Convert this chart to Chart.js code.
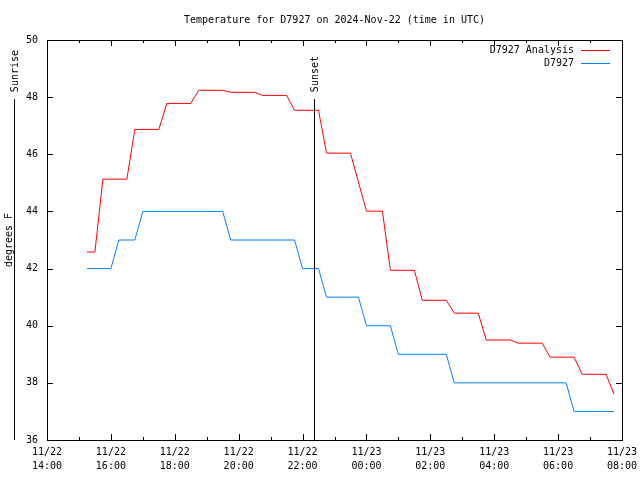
<!DOCTYPE html>
<html>
<head>
<meta charset="utf-8">
<script src="https://cdn.jsdelivr.net/npm/chart.js@4.4.1/dist/chart.umd.min.js"></script>
<style>
  html, body { margin: 0; padding: 0; background: #fff; }
  #wrap { width: 640px; height: 480px; }
</style>
</head>
<body>
<div id="wrap"><canvas id="myChart"></canvas></div>
<script>
// hours after 11/22 14:00 UTC
const analysisHours = [1.25, 1.5, 1.75, 2.5, 2.75, 3.5, 3.75, 4.5, 4.75, 5.5, 5.75, 6.5, 6.75, 7.5, 7.75, 8.5, 8.75, 9.5, 10.0, 10.5, 10.75, 11.5, 11.75, 12.5, 12.75, 13.5, 13.75, 14.5, 14.75, 15.5, 15.75, 16.5, 16.75, 17.5, 17.75];
const analysisTemps = [42.58, 42.58, 45.13, 45.13, 46.87, 46.87, 47.78, 47.78, 48.24, 48.24, 48.17, 48.17, 48.06, 48.06, 47.54, 47.54, 46.04, 46.04, 44.01, 44.01, 41.94, 41.94, 40.89, 40.89, 40.44, 40.44, 39.5, 39.5, 39.39, 39.39, 38.9, 38.9, 38.3, 38.3, 37.6];

const obsHours = [1.25, 2.0, 2.25, 2.75, 3.0, 5.5, 5.75, 7.75, 8.0, 8.5, 8.75, 9.75, 10.0, 10.75, 11.0, 12.5, 12.75, 16.25, 16.5, 17.75];
const obsTemps = [42, 42, 43, 43, 44, 44, 43, 43, 42, 42, 41, 41, 40, 40, 39, 39, 38, 38, 37, 37];

const tickDates = ['11/22', '11/22', '11/22', '11/22', '11/22', '11/23', '11/23', '11/23', '11/23', '11/23'];
const tickTimes = ['14:00', '16:00', '18:00', '20:00', '22:00', '00:00', '02:00', '04:00', '06:00', '08:00'];

const sunsetHour = 8.36;
const sunsetTop = 47.93;

const FONT = '"DejaVu Sans Mono", monospace';

const toPoints = (xs, ys) => xs.map((x, i) => ({ x: x, y: ys[i] }));

const data = {
  datasets: [
    {
      label: 'D7927 Analysis',
      data: toPoints(analysisHours, analysisTemps),
      borderColor: '#ff0000',
      borderWidth: 1,
      pointRadius: 0,
      tension: 0
    },
    {
      label: 'D7927',
      data: toPoints(obsHours, obsTemps),
      borderColor: '#0080ff',
      borderWidth: 1,
      pointRadius: 0,
      tension: 0
    }
  ]
};

// gnuplot-ish decorations: frame, inward ticks, legend, sunrise/sunset, title
const decor = {
  id: 'decor',
  afterDraw(chart) {
    const ctx = chart.ctx;
    const a = chart.chartArea;
    const xs = chart.scales.x;
    const ys = chart.scales.y;
    ctx.save();
    ctx.strokeStyle = '#000';
    ctx.lineWidth = 1;
    ctx.strokeRect(Math.round(a.left) + 0.5, Math.round(a.top) + 0.5,
      Math.round(a.right - a.left), Math.round(a.bottom - a.top));

    ctx.beginPath();
    for (let h = 0; h <= 18; h++) {
      const px = Math.round(xs.getPixelForValue(h)) + 0.5;
      const len = h % 2 === 0 ? 6 : 3;
      ctx.moveTo(px, a.bottom); ctx.lineTo(px, a.bottom - len);
      ctx.moveTo(px, a.top); ctx.lineTo(px, a.top + len);
    }
    for (let v = 36; v <= 50; v += 2) {
      const py = Math.round(ys.getPixelForValue(v)) + 0.5;
      ctx.moveTo(a.right, py); ctx.lineTo(a.right - 6, py);
      ctx.moveTo(a.left, py); ctx.lineTo(a.left + 6, py);
    }
    ctx.stroke();

    // title
    ctx.fillStyle = '#000';
    ctx.font = '10px ' + FONT;
    ctx.textAlign = 'center';
    ctx.textBaseline = 'middle';
    ctx.fillText('Temperature for D7927 on 2024-Nov-22 (time in UTC)', (a.left + a.right) / 2, 20);

    // legend
    ctx.textAlign = 'right';
    chart.data.datasets.forEach((ds, i) => {
      const y = a.top + 10 + i * 13;
      ctx.fillStyle = '#000';
      ctx.fillText(ds.label, a.right - 48, y);
      ctx.strokeStyle = ds.borderColor;
      ctx.beginPath();
      ctx.moveTo(a.right - 41, Math.round(y) + 0.5);
      ctx.lineTo(a.right - 12, Math.round(y) + 0.5);
      ctx.stroke();
    });

    // sunset
    const sx = Math.round(xs.getPixelForValue(sunsetHour)) + 0.5;
    const sTop = ys.getPixelForValue(sunsetTop);
    ctx.strokeStyle = '#000';
    ctx.beginPath();
    ctx.moveTo(sx, sTop); ctx.lineTo(sx, a.bottom);
    ctx.stroke();
    ctx.save();
    ctx.translate(sx + 1, sTop - 7);
    ctx.rotate(-Math.PI / 2);
    ctx.textAlign = 'left';
    ctx.fillStyle = '#000';
    ctx.fillText('Sunset', 0, 0);
    ctx.restore();

    // sunrise (before the start of the plot, shown at left margin)
    const rx = a.left - 32.5;
    ctx.beginPath();
    ctx.moveTo(rx, sTop); ctx.lineTo(rx, a.bottom);
    ctx.stroke();
    ctx.save();
    ctx.translate(rx + 1, sTop - 7);
    ctx.rotate(-Math.PI / 2);
    ctx.textAlign = 'left';
    ctx.fillStyle = '#000';
    ctx.fillText('Sunrise', 0, 0);
    ctx.restore();

    ctx.restore();
  }
};

new Chart(document.getElementById('myChart'), {
  type: 'line',
  data: data,
  options: {
    responsive: true,
    maintainAspectRatio: false,
    animation: false,
    layout: { padding: { top: 40, right: 18, left: 0, bottom: 0 } },
    plugins: {
      legend: { display: false },
      tooltip: { enabled: false },
      title: { display: false }
    },
    scales: {
      x: {
        type: 'linear',
        min: 0,
        max: 18,
        grid: { display: false, drawTicks: false },
        border: { display: false },
        afterFit: (s) => { s.height = 40; s.paddingLeft = 0; s.paddingRight = 0; },
        ticks: {
          stepSize: 2,
          autoSkip: false,
          maxRotation: 0,
          padding: 5,
          color: '#000',
          font: { family: FONT, size: 10, lineHeight: 1.4 },
          callback: (v) => [tickDates[v / 2], tickTimes[v / 2]]
        }
      },
      y: {
        min: 36,
        max: 50,
        grid: { display: false, drawTicks: false },
        border: { display: false },
        afterFit: (s) => { s.width = 47; s.paddingTop = 0; s.paddingBottom = 0; },
        title: {
          display: true,
          text: 'degrees F',
          color: '#000',
          font: { family: FONT, size: 10 },
          padding: { top: 3, bottom: 0 }
        },
        ticks: {
          stepSize: 2,
          padding: 9,
          color: '#000',
          font: { family: FONT, size: 10 }
        }
      }
    }
  },
  plugins: [decor]
});
</script>
</body>
</html>
